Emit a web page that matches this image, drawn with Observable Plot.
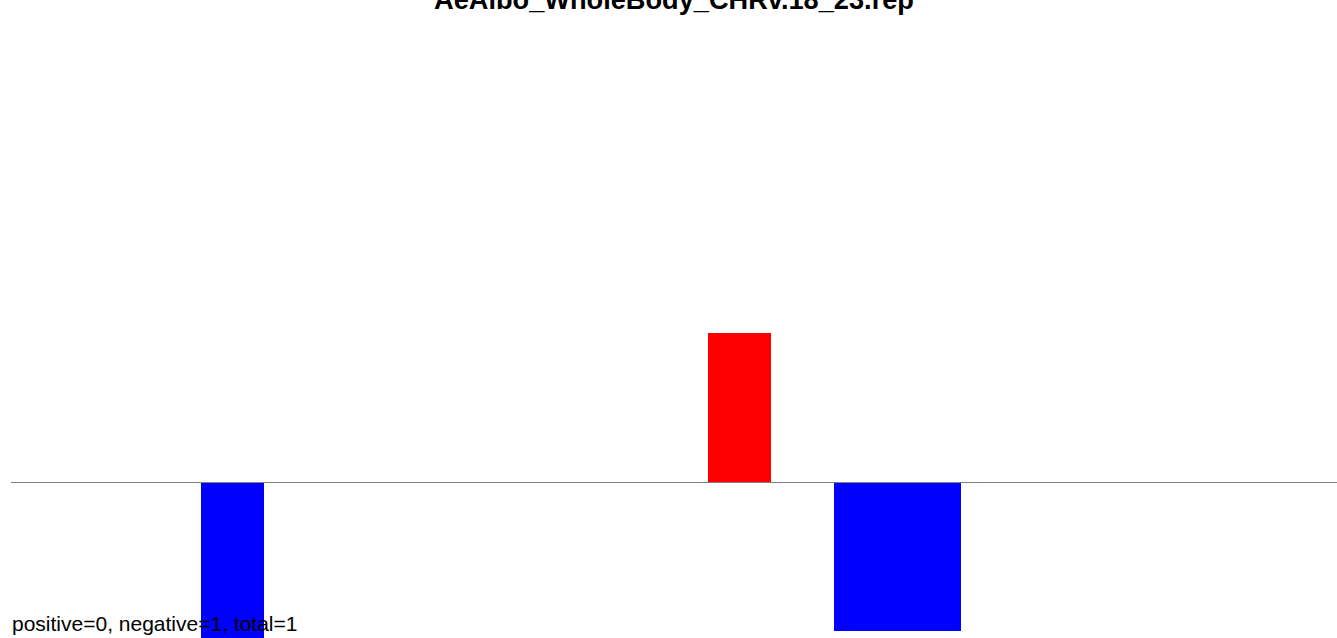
<!DOCTYPE html>
<html>
<head>
<meta charset="utf-8">
<script src="https://cdn.jsdelivr.net/npm/d3@7"></script>
<script src="https://cdn.jsdelivr.net/npm/@observablehq/plot@0.6"></script>
<style>
  html, body { margin: 0; padding: 0; background: #fff; overflow: hidden; }
  #wrap { position: relative; width: 1337px; height: 638px; font-family: "Liberation Sans", Arial, sans-serif; }
  #title { position: absolute; left: 11px; right: 0; top: -16px; text-align: center; font-weight: bold; font-size: 27.2px; color: #000; white-space: nowrap; }
  #caption { position: absolute; left: 12px; top: 612px; font-size: 21px; color: #000; white-space: nowrap; }
</style>
</head>
<body>
<div id="wrap">
  <div id="chart"></div>
  <div id="title"></div>
  <div id="caption"></div>
</div>
<script>
const titleText = "AeAlbo_WholeBody_CHRv.18_23.rep";
const captionText = "positive=0, negative=1, total=1";
const bins = [0, 1, 2, 3, 4, 5, 6, 7, 8, 9, 10, 11, 12, 13, 14, 15, 16, 17, 18, 19, 20];
const values = [0, 0, 0, -1.2, 0, 0, 0, 0, 0, 0, 0, 1, 0, -1, -1, 0, 0, 0, 0, 0, 0];

const data = bins.map((b, i) => ({bin: b, value: values[i]}));

const chart = Plot.plot({
  width: 1337,
  height: 638,
  marginLeft: 11,
  marginRight: 0,
  marginTop: 0,
  marginBottom: 0,
  style: {background: "transparent"},
  x: {type: "band", domain: bins, padding: 0, round: false, range: [11, 1341], axis: null},
  y: {domain: [-1.047, 3.235], axis: null},
  marks: [
    Plot.barY(data.filter(d => d.value !== 0), {
      x: "bin",
      y: "value",
      fill: d => d.value > 0 ? "#ff0000" : "#0000ff",
      shapeRendering: "crispEdges"
    }),
    Plot.ruleY([0], {stroke: "#808080", strokeWidth: 1})
  ]
});
document.getElementById("chart").appendChild(chart);
document.getElementById("title").textContent = titleText;
document.getElementById("caption").textContent = captionText;
</script>
</body>
</html>
